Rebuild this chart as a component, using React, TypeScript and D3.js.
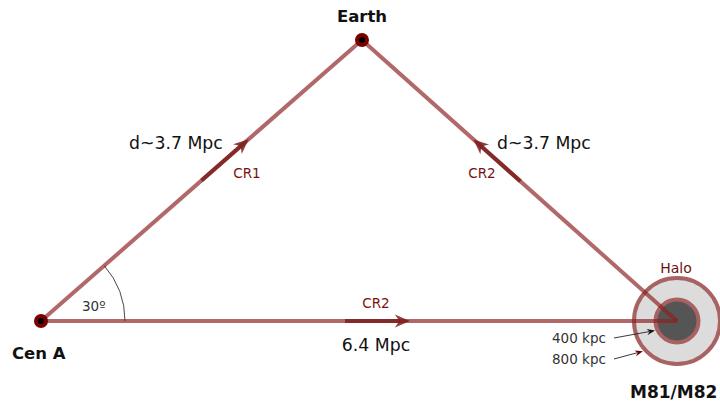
import React from "react";
import * as d3 from "d3";

// ---- data ----
const places = ["Cen A", "Earth", "M81/M82"];
const placeXMpc = [0, 3.23, 6.4];
const placeYMpc = [0, 1.857, 0];
const sideFrom = [0, 2, 0];
const sideTo = [1, 1, 2];
const sideLabels = ["d~3.7 Mpc", "d~3.7 Mpc", "6.4 Mpc"];
const crLabels = ["CR1", "CR2", "CR2"];
const crStart = [0.5, 0.497, 0.478];
const crEnd = [0.647, 0.646, 0.58];
const haloRadiiKpc = [400, 800];
const haloLabels = ["400 kpc", "800 kpc"];
const angleLabel = "30º";

const W = 720;
const H = 401;
const LINE = "#8b2020";
const DARK = "#7a1a1a";
const FONT = "DejaVu Sans, sans-serif";

export default function App() {
  const x = d3.scaleLinear().domain([0, 6.4]).range([41, 677]);
  const y = d3.scaleLinear().domain([0, 1.857]).range([321, 40]);
  const r = d3.scaleLinear().domain([0, 800]).range([0, 43]);

  const px = placeXMpc.map((v) => x(v));
  const py = placeYMpc.map((v) => y(v));

  const pt = (i: number, j: number, t: number) => [
    px[i] + (px[j] - px[i]) * t,
    py[i] + (py[j] - py[i]) * t,
  ];

  const arrowHead = (tx: number, ty: number, ang: number, len = 15, hw = 6.5) => {
    const c = Math.cos(ang), s = Math.sin(ang);
    const p = (a: number, b: number) => [tx + a * c - b * s, ty + a * s + b * c];
    const pts = [p(0, 0), p(-len, -hw), p(-len * 0.7, 0), p(-len, hw)];
    return "M" + pts.map((q) => q.join(",")).join("L") + "Z";
  };

  const mx = px[2], my = py[2];
  const c = px[0], cy = py[0];
  const earthAng = Math.atan2(py[1] - cy, px[1] - c);
  const arcR = 84;
  const arc = d3.path();
  arc.moveTo(c + arcR, cy);
  arc.arc(c, cy, arcR, 0, earthAng, true);

  return (
    <svg width={W} height={H} style={{ position: "absolute", left: 0, top: 0 }} fontFamily={FONT}>
      <rect width={W} height={H} fill="#fff" />
      {/* halo */}
      <circle cx={mx} cy={my} r={r(haloRadiiKpc[1])} fill="#dcdcdc" stroke="#a86262" strokeWidth={4} />
      <circle cx={mx} cy={my} r={r(haloRadiiKpc[0])} fill="#555" stroke="#a86262" strokeWidth={4} />
      {/* sides */}
      {sideFrom.map((f, k) => (
        <line key={"s" + k} x1={px[f]} y1={py[f]} x2={px[sideTo[k]]} y2={py[sideTo[k]]}
          stroke={LINE} strokeOpacity={0.68} strokeWidth={4} />
      ))}
      {/* CR arrows */}
      {sideFrom.map((f, k) => {
        const t = sideTo[k];
        const [x0, y0] = pt(f, t, crStart[k]);
        const [x1, y1] = pt(f, t, crEnd[k]);
        const ang = Math.atan2(y1 - y0, x1 - x0);
        const bx = x1 - Math.cos(ang) * 10, by = y1 - Math.sin(ang) * 10;
        return (
          <g key={"a" + k}>
            <line x1={x0} y1={y0} x2={bx} y2={by} stroke={DARK} strokeOpacity={0.8} strokeWidth={4} />
            <path d={arrowHead(x1, y1, ang)} fill={DARK} fillOpacity={0.85} />
          </g>
        );
      })}
      {/* angle arc */}
      <path d={arc.toString()} fill="none" stroke="#333" strokeWidth={0.9} />
      <text x={82} y={311} fontSize={13.5} fill="#333">{angleLabel}</text>
      {/* nodes */}
      {[0, 1].map((i) => (
        <g key={"n" + i}>
          <circle cx={px[i]} cy={py[i]} r={7} fill="#7a0000" />
          <circle cx={px[i]} cy={py[i]} r={3} fill="#000" />
        </g>
      ))}
      {/* place labels */}
      <text x={px[1]} y={22} fontSize={16.5} fontWeight="bold" textAnchor="middle" fill="#111">{places[1]}</text>
      <text x={12} y={359} fontSize={16.5} fontWeight="bold" fill="#111">{places[0]}</text>
      <text x={630} y={398} fontSize={17} fontWeight="bold" fill="#111">{places[2]}</text>
      {/* distance labels */}
      <text x={129} y={149} fontSize={17.3} fill="#111">{sideLabels[0]}</text>
      <text x={497} y={149} fontSize={17.3} fill="#111">{sideLabels[1]}</text>
      <text x={376} y={351} fontSize={17.3} textAnchor="middle" fill="#111">{sideLabels[2]}</text>
      {/* CR labels */}
      <text x={247} y={178} fontSize={13.5} textAnchor="middle" fill="#7a1010">{crLabels[0]}</text>
      <text x={482} y={178} fontSize={13.5} textAnchor="middle" fill="#7a1010">{crLabels[1]}</text>
      <text x={376} y={308} fontSize={13.5} textAnchor="middle" fill="#7a1010">{crLabels[2]}</text>
      {/* halo labels */}
      <text x={676} y={273} fontSize={14} textAnchor="middle" fill="#6b1010">Halo</text>
      {haloLabels.map((lab, k) => {
        const ty = 343 + k * 21;
        const ang = k === 0 ? -0.18 : -0.26;
        const target = k === 0 ? 655 : 643;
        const x0 = 614, y0 = ty - 5;
        const y1 = y0 + Math.tan(ang) * (target - x0);
        return (
          <g key={"h" + k}>
            <text x={552} y={ty} fontSize={13.5} fill="#333">{lab}</text>
            <line x1={x0} y1={y0} x2={target - 6} y2={y1 - Math.sin(ang) * 6} stroke="#222" strokeWidth={0.9} />
            <path d={arrowHead(target, y1, ang, 8, 3)} fill={k === 0 ? "#111" : "#6b0000"} />
          </g>
        );
      })}
    </svg>
  );
}
